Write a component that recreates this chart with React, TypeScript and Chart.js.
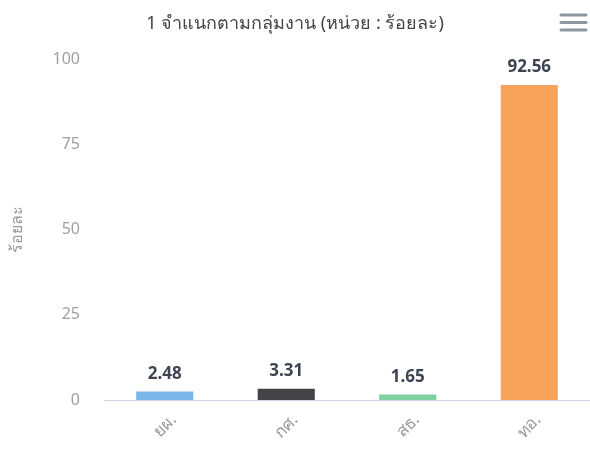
import React, { useEffect, useRef } from "react";
import { Chart, registerables } from "chart.js";

Chart.register(...registerables);

const categories = ["ยผ.", "กศ.", "สธ.", "ทอ."];
const values = [2.48, 3.31, 1.65, 92.56];
const barColors = ["#7cb5ec", "#434348", "#7fd0a0", "#f7a35c"];
const yTicks = [0, 25, 50, 75, 100];
const titleText = "1 จำแนกตามกลุ่มงาน (หน่วย : ร้อยละ)";
const yTitle = "ร้อยละ";

const FONT = "'Noto Sans', 'Open Sans', sans-serif";

const labelPlugin = {
  id: "valueLabels",
  afterDatasetsDraw(chart: any) {
    const ctx = chart.ctx;
    const meta = chart.getDatasetMeta(0);
    ctx.save();
    ctx.font = `bold 17px ${FONT}`;
    ctx.fillStyle = "#3d4552";
    ctx.textAlign = "center";
    ctx.textBaseline = "bottom";
    meta.data.forEach((bar: any, i: number) => {
      ctx.fillText(values[i].toFixed(2), bar.x, bar.y - 9);
    });
    ctx.restore();
  },
};

const menuPlugin = {
  id: "menuIcon",
  afterDraw(chart: any) {
    const ctx = chart.ctx;
    ctx.save();
    ctx.strokeStyle = "#9096a0";
    ctx.lineWidth = 3;
    ctx.lineCap = "round";
    [15, 22.5, 30].forEach((y) => {
      ctx.beginPath();
      ctx.moveTo(561, y);
      ctx.lineTo(586, y);
      ctx.stroke();
    });
    ctx.restore();
  },
};

export default function App() {
  const ref = useRef<HTMLCanvasElement>(null);
  useEffect(() => {
    if (!ref.current) return;
    const chart = new Chart(ref.current, {
      type: "bar",
      data: {
        labels: categories,
        datasets: [
          {
            data: values,
            backgroundColor: barColors,
            barPercentage: 0.47,
            categoryPercentage: 1,
          },
        ],
      },
      plugins: [labelPlugin, menuPlugin],
      options: {
        animation: false,
        responsive: false,
        layout: { padding: { left: 0, right: 0, top: 3, bottom: 0 } },
        plugins: {
          legend: { display: false },
          tooltip: { enabled: false },
          title: {
            display: true,
            text: titleText,
            color: "#444444",
            font: { family: FONT, size: 18, weight: "normal" },
            padding: { top: 10, bottom: 25 },
          },
        },
        scales: {
          x: {
            grid: { display: false, drawTicks: false },
            border: { display: true, color: "#ccd6eb", width: 1 },
            ticks: {
              color: "#999999",
              font: { family: FONT, size: 17 },
              maxRotation: 45,
              minRotation: 45,
              padding: 10,
              labelOffset: 9,
            },
            afterFit: (scale: any) => {
              scale.height = 53;
            },
          },
          y: {
            min: 0,
            max: 100,
            afterBuildTicks: (scale: any) => {
              scale.ticks = yTicks.map((v) => ({ value: v }));
            },
            grid: { display: false, drawTicks: false },
            border: { display: false },
            ticks: {
              color: "#a0a0a0",
              font: { family: FONT, size: 16 },
              padding: 24,
            },
            title: {
              display: true,
              text: yTitle,
              color: "#999999",
              font: { family: FONT, size: 16 },
              padding: { top: 8, bottom: 0 },
            },
            afterFit: (scale: any) => {
              scale.width = 104;
            },
          },
        },
      },
    } as any);
    return () => chart.destroy();
  }, []);
  return (
    <div style={{ position: "fixed", left: 0, top: 0, width: 590, height: 453, background: "#fff" }}>
      <canvas ref={ref} width={590} height={453} style={{ width: 590, height: 453 }} />
    </div>
  );
}
